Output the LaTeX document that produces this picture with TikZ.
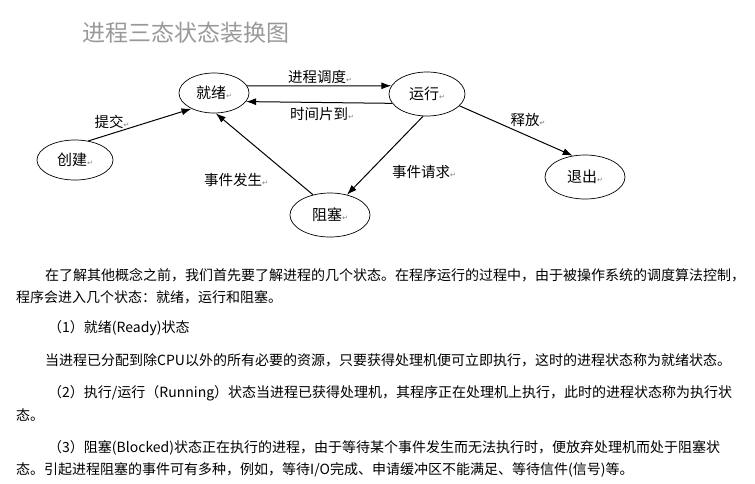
\documentclass[tikz,border=0pt]{standalone}
\usepackage{fontspec}
\usetikzlibrary{shapes.geometric,arrows.meta}
\setmainfont{Noto Sans CJK SC}
\newfontfamily\dv{DejaVu Sans}
\newcommand{\pmk}{{\dv\fontsize{7}{7}\selectfont\color{gray}↵}}
\begin{document}
\begin{tikzpicture}[x=1pt,y=-1pt,
  st/.style={draw,ellipse,line width=0.7pt,minimum width=76pt,minimum height=40pt,inner sep=0pt,font=\fontsize{15}{15}\selectfont},
  lab/.style={font=\fontsize{14.5}{15}\selectfont,inner sep=1pt},
  ar/.style={-{Latex[length=10pt,width=7pt]},line width=1pt},
  tx/.style={anchor=west,font=\fontsize{14}{15}\selectfont,inner sep=0pt}]
\useasboundingbox (0,0) rectangle (755,483);
\node[anchor=west,text=gray!80,font=\fontsize{23}{23}\selectfont,inner sep=0pt] (title) at (82,33) {进程三态状态装换图};
\node[st] (cj) at (75,160) {创建\pmk};
\node[st,minimum width=70pt] (jx) at (214,93) {就绪\pmk};
\node[st,minimum height=44pt] (yx) at (427,94) {运行\pmk};
\node[st,minimum width=80pt,minimum height=44pt] (zs) at (330,215) {阻塞\pmk};
\node[st,minimum width=80pt,minimum height=44pt] (tc) at (585,177) {退出\pmk};
\draw[ar] (cj.55) -- (jx.215);
\draw[ar] (jx.12) -- (yx.167);
\draw[ar] (yx.195) -- (jx.345);
\draw[ar] (yx.-100) -- (zs.50);
\draw[ar] (zs.130) -- (jx.-85);
\draw[ar] (yx.-20) -- (tc.120);
\node[lab] (l1) at (320,77) {进程调度\pmk};
\node[lab] (l2) at (322,114) {时间片到\pmk};
\node[lab] (l3) at (112,122) {提交\pmk};
\node[lab] (l4) at (236,180) {事件发生\pmk};
\node[lab] (l5) at (424,172) {事件请求\pmk};
\node[lab] (l6) at (528,120) {释放\pmk};
\node[tx] (p1) at (45,275) {在了解其他概念之前，我们首先要了解进程的几个状态。在程序运行的过程中，由于被操作系统的调度算法控制，};
\node[tx] (p2) at (16,297) {程序会进入几个状态：就绪，运行和阻塞。};
\node[tx] (p3) at (48,328) {（1）就绪(Ready)状态};
\node[tx] (p4) at (45,360) {当进程已分配到除CPU以外的所有必要的资源，只要获得处理机便可立即执行，这时的进程状态称为就绪状态。};
\node[tx] (p5) at (48,393) {（2）执行/运行（Running）状态当进程已获得处理机，其程序正在处理机上执行，此时的进程状态称为执行状};
\node[tx] (p6) at (16,415) {态。};
\node[tx] (p7) at (48,448) {（3）阻塞(Blocked)状态正在执行的进程，由于等待某个事件发生而无法执行时，便放弃处理机而处于阻塞状};
\node[tx] (p8) at (16,470) {态。引起进程阻塞的事件可有多种，例如，等待I/O完成、申请缓冲区不能满足、等待信件(信号)等。};
\end{tikzpicture}
\end{document}
